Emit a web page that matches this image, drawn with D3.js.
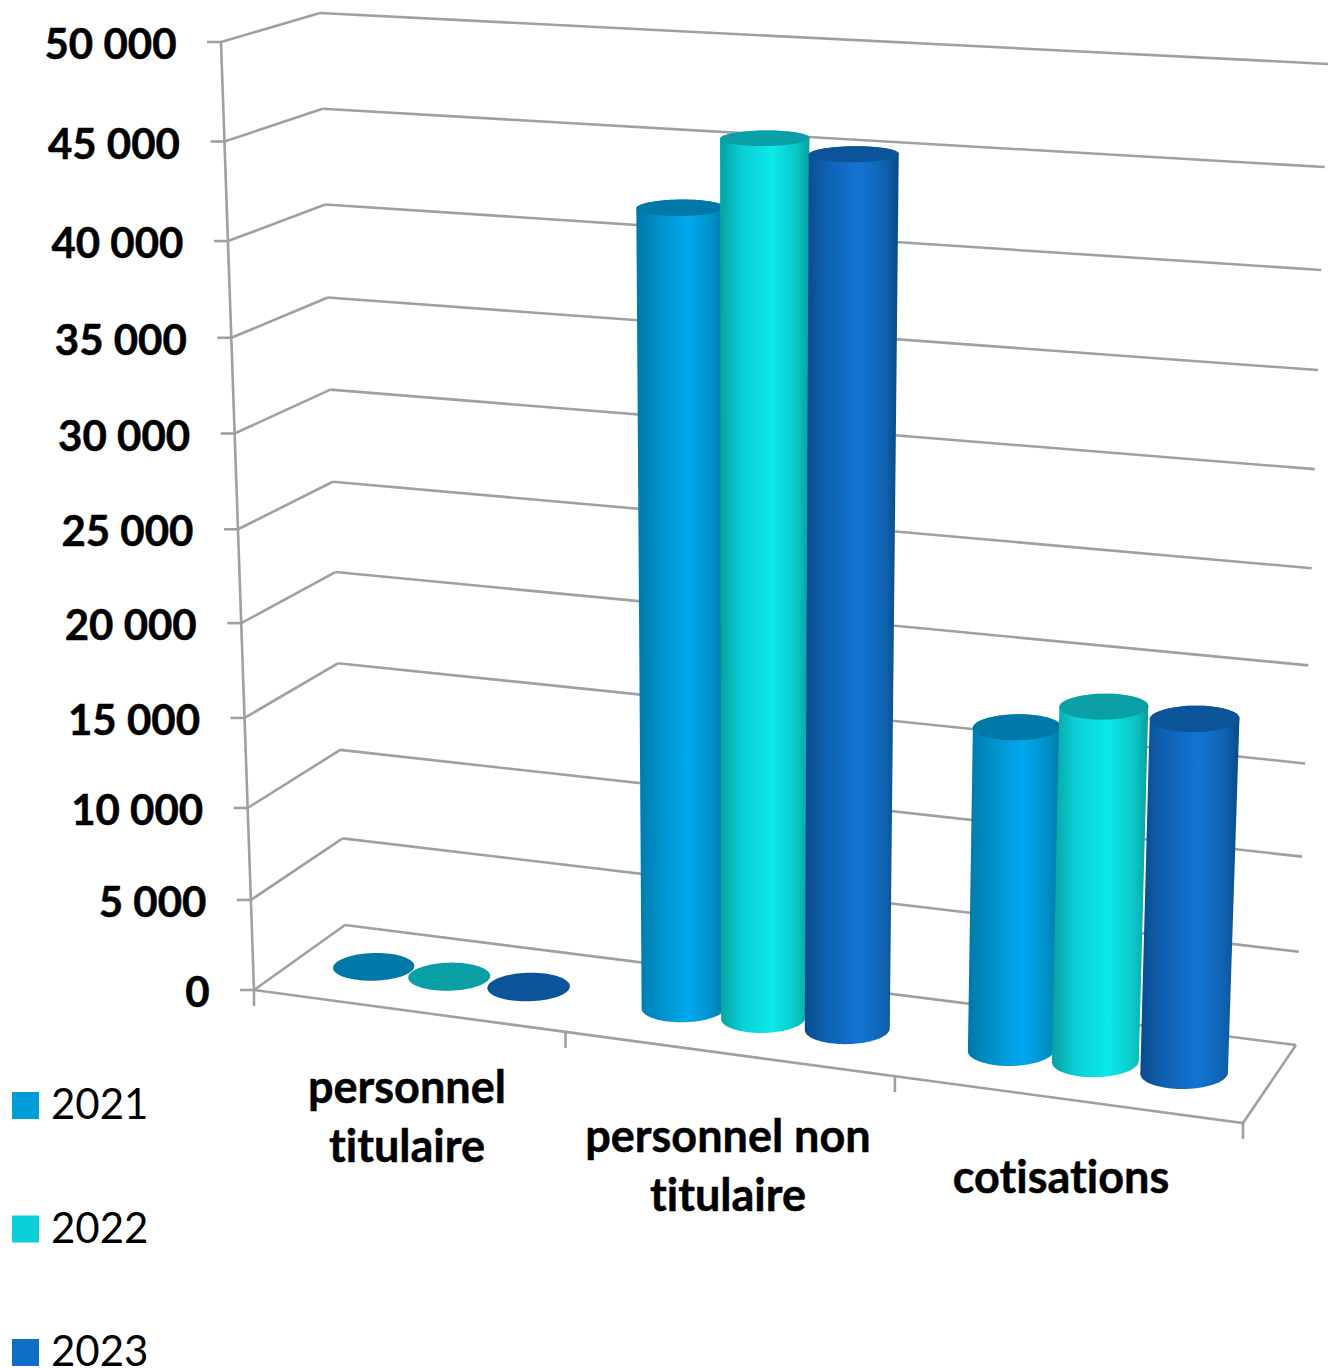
<!DOCTYPE html>
<html><head><meta charset="utf-8">
<script src="https://cdn.jsdelivr.net/npm/d3@7"></script>
<style>html,body{margin:0;padding:0;background:#fff;overflow:hidden}svg{display:block}text{font-family:Lato,"Open Sans",sans-serif;fill:#000;font-variant-ligatures:none}</style>
</head><body><svg id="c" width="1337" height="1368"></svg>
<script>
const categories = [["personnel","titulaire"],["personnel non","titulaire"],["cotisations"]];
const years = ["2021","2022","2023"];
const values2021 = [20, 42140, 17100];
const values2022 = [20, 45850, 18600];
const values2023 = [20, 45330, 18450];
const seriesValues = [values2021, values2022, values2023];
const tickValues = [0,5000,10000,15000,20000,25000,30000,35000,40000,45000,50000];
const tickLabels = ["0","5 000","10 000","15 000","20 000","25 000","30 000","35 000","40 000","45 000","50 000"];

const legendColors = ["#009dd9","#0bd0d9","#0f6fc6"];
const capColors = ["#0079a8","#0a9fa5","#0c5499"];
const ramps = [
  ["#0078a8","#0090c8","#00a8ee","#0090c8","#0078a8"],
  ["#08a0a0","#0ad0d8","#0ce8ea","#0ac8c8","#08a09f"],
  ["#0a4a8c","#0f62b4","#1274d4","#0f62b0","#0a4a85"]
];
const stopsAt = [0,.25,.58,.85,1];

const svg = d3.select("#c");
// box corners at value 0 and 50 000
const floor = {fl:[254,990], bl:[345,925], br:[1296,1045], fr:[1243,1123]};
const roof  = {fl:[221,42],  bl:[320,13],  br:[1328,64],   fr:[1281,103]};
// height fraction of each axis tick, as measured along the box's vertical edges (perspective)
const tScale = d3.scaleLinear().domain(tickValues).range([0,.095,.192,.287,.387,.486,.587,.688,.79,.895,1]);
const uScale = d3.scaleLinear().domain([0,1,2,3]).range([0,.315,.648,1]);
const lerp = (a,b,t)=>[a[0]+(b[0]-a[0])*t, a[1]+(b[1]-a[1])*t];
function project(u,d,v){
  const q = c => lerp(lerp(c.fl,c.fr,u), lerp(c.bl,c.br,u), d);
  return lerp(q(floor), q(roof), tScale(v));
}
const line = d3.line();
const axisStroke = {stroke:"#a0a0a0", w:2.6};
function seg(pts){
  svg.append("path").attr("d",line(pts)).attr("fill","none")
    .attr("stroke",axisStroke.stroke).attr("stroke-width",axisStroke.w);
}
// walls
tickValues.forEach(v=>{
  seg([project(0,1,v),project(1,1,v)]);
  seg([project(0,0,v),project(0,1,v)]);
});
seg([project(0,0,0),project(0,0,50000)]);
// floor
seg([project(0,0,0),project(1,0,0),project(1,1,0)]);
// category ticks
uScale.domain().forEach(i=>{
  const p = project(uScale(i),0,0);
  seg([p,[p[0],p[1]+16]]);
});
// value ticks and labels
tickValues.forEach((v,i)=>{
  const p = project(0,0,v);
  seg([[p[0]-14,p[1]],p]);
  svg.append("text").attr("x",p[0]-44.5).attr("y",p[1]+17)
    .attr("text-anchor","end").attr("font-weight",700).attr("font-size",42)
    .attr("stroke","#000").attr("stroke-width",.5)
    .text(tickLabels[i]);
});
// gradients
const defs = svg.append("defs");
ramps.forEach((r,i)=>{
  const g = defs.append("linearGradient").attr("id","g"+i).attr("x1",0).attr("x2",1).attr("y1",0).attr("y2",0);
  r.forEach((c,j)=>g.append("stop").attr("offset",stopsAt[j]).attr("stop-color",c));
});
// cylinders
const rd=.21, shearKeep=.15, slotOffset=[.243,.49,.75];
const ruAt = u => .0415+.004*u;
const angles = d3.range(0,2*Math.PI,Math.PI/36);
function disc(u,v){
  const c = project(u,.5,v), ru = ruAt(u);
  return angles.map(a=>{
    const p = project(u+ru*Math.cos(a), .5+rd*Math.sin(a), v);
    const depthOnly = project(u,.5+rd*Math.sin(a),v);
    return [p[0]-(1-shearKeep)*(depthOnly[0]-c[0]), depthOnly[1]];
  });
}
categories.forEach((c,ci)=>{
  years.forEach((y,si)=>{
    const v = seriesValues[si][ci];
    const u = uScale(ci+slotOffset[si]);
    const top = disc(u,v), base = disc(u,0);
    if (v > 100) svg.append("path").attr("d",line(d3.polygonHull(top.concat(base)))+"Z").attr("fill",`url(#g${si})`);
    svg.append("path").attr("d",line(top)+"Z").attr("fill",capColors[si]);
  });
});
// category labels
const labelPlace = [[407,1103],[728,1152],[1061,1193]];
categories.forEach((lines,i)=>{
  lines.forEach((t,j)=>{
    svg.append("text").attr("x",labelPlace[i][0]).attr("y",labelPlace[i][1]+j*59)
      .attr("text-anchor","middle").attr("font-weight",700).attr("font-size",45)
      .attr("stroke","#000").attr("stroke-width",.5).text(t);
  });
});
// legend
years.forEach((y,i)=>{
  const yy = 1092+i*123.5;
  svg.append("rect").attr("x",12).attr("y",yy).attr("width",27).attr("height",27).attr("fill",legendColors[i]);
  svg.append("text").attr("x",51).attr("y",yy+27).attr("font-size",42).text(y);
});
</script></body></html>
